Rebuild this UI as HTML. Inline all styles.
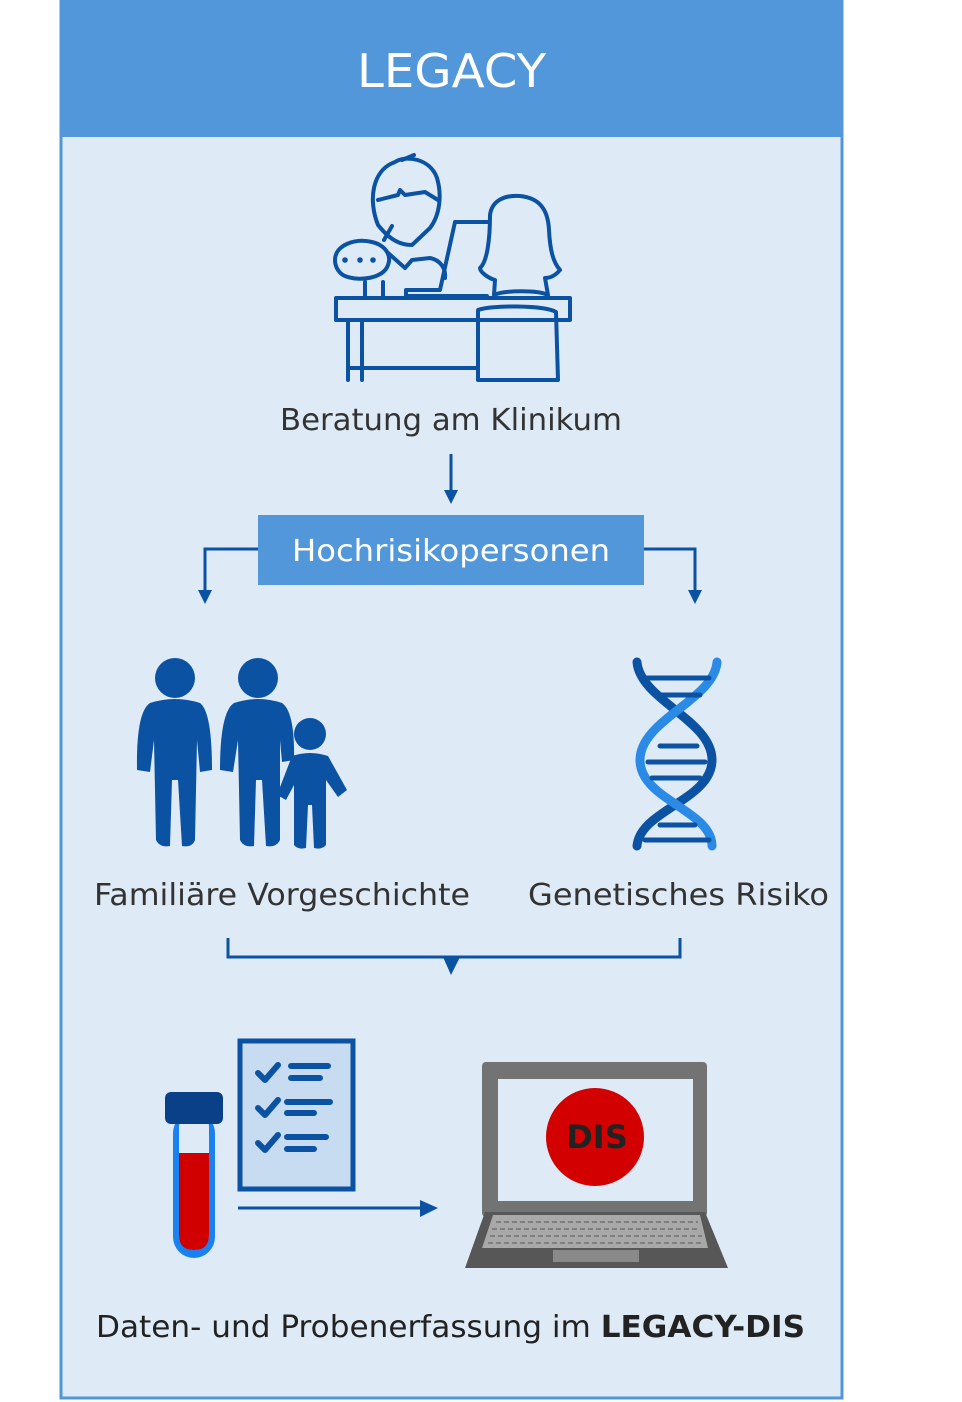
<!DOCTYPE html>
<html><head><meta charset="utf-8"><style>
html,body{margin:0;padding:0;background:#fff;}
svg{display:block}
text{font-family:"DejaVu Sans","Liberation Sans",sans-serif;}
</style></head><body>
<svg width="962" height="1402" viewBox="0 0 962 1402" xmlns="http://www.w3.org/2000/svg">
<rect x="61" y="1" width="781" height="1397" fill="#deebf7" stroke="#5296da" stroke-width="3"/>
<rect x="60" y="0" width="783" height="137" fill="#5397db"/>
<text x="357" y="87" font-size="46" fill="#fff" textLength="189" lengthAdjust="spacingAndGlyphs">LEGACY</text>

<!-- consultation icon -->
<g fill="none" stroke="#0b52a3" stroke-width="4" stroke-linecap="round" stroke-linejoin="round">
<path d="M378 225 C368 200 372 170 395 162 C405 155 430 158 437 178 C442 195 440 215 430 228 L412 245 C400 245 390 240 378 225Z"/>
<path d="M378 200 L398 195 L400 190 L405 195 L425 192 L438 200"/>
<path d="M402 160 L414 155"/>
<path d="M335 260 C335 245 355 238 372 242 C385 245 392 255 388 265 C384 278 360 282 345 276 C340 274 335 268 335 260Z"/>
<path d="M384 240 L392 226"/>
<path d="M387 252 L405 268 L412 260 L430 258 C440 260 446 268 445 278"/>
<path d="M365 282 V298 M383 282 V298"/>
<path d="M455 222 L488 222 M455 222 L440 290 L406 290 V296 L487 296"/>
<path d="M490 215 C492 200 505 195 520 196 C540 198 548 210 549 230 C550 250 553 262 560 270 C555 276 550 278 545 278 L548 295 C538 290 505 290 494 295 L495 280 C488 278 480 272 480 268 C487 262 490 240 490 215Z"/>
<path d="M336 298 H570 V320 H336 Z"/>
<path d="M348 320 V380 M362 320 V380 M348 368 H476"/>
<path d="M478 310 C490 305 545 305 556 312 L558 380 H478 Z"/>
</g>
<g fill="#0b52a3"><circle cx="345" cy="260" r="2.8"/><circle cx="360" cy="260" r="2.8"/><circle cx="373" cy="260" r="2.8"/></g>

<text x="280" y="430" font-size="30" fill="#333" textLength="342" lengthAdjust="spacingAndGlyphs">Beratung am Klinikum</text>

<g stroke="#0b52a3" stroke-width="3" fill="none">
<path d="M451 454 V492"/>
<path d="M258 549 H205 V592"/>
<path d="M644 549 H695 V592"/>
<path d="M228 938 V957 H680 V938"/>
<path d="M238 1208 H422"/>
</g>
<g fill="#0b52a3">
<path d="M444 490 L458 490 L451 504Z"/>
<path d="M198 590 L212 590 L205 604Z"/>
<path d="M688 590 L702 590 L695 604Z"/>
<path d="M443 957 L460 957 L451 975Z"/>
<path d="M420 1200 L438 1208 L420 1217Z"/>
</g>
<rect x="258" y="515" width="386" height="70" fill="#5397db"/>
<text x="292" y="561" font-size="30" fill="#fff" textLength="318" lengthAdjust="spacingAndGlyphs">Hochrisikopersonen</text>

<!-- family -->
<g fill="#0b52a3">
<circle cx="175" cy="678" r="20"/>
<path d="M150 703 Q175 695 200 703 Q212 712 212 770 L200 772 L197 740 L195 840 Q192 848 182 846 L178 780 L172 780 L170 846 Q160 848 156 840 L154 740 L150 772 L137 770 Q136 712 150 703Z"/>
<circle cx="258" cy="678" r="20"/>
<path d="M234 703 Q258 695 282 703 Q295 712 294 760 L282 762 L280 740 L280 840 Q276 848 266 846 L262 780 L256 780 L254 846 Q244 848 240 840 L238 740 L233 772 L220 770 Q220 712 234 703Z"/>
<circle cx="310" cy="734" r="16"/>
<path d="M292 756 Q310 750 328 756 L347 790 L338 797 L326 780 L326 845 Q322 850 314 848 L312 805 L308 805 L306 848 Q298 850 294 845 L294 785 L286 800 L277 795 Z"/>
</g>
<!-- DNA -->
<g fill="none" stroke-width="9" stroke-linecap="round">
<path d="M637 662 C640 700 712 720 712 760 C712 800 640 810 637 846" stroke="#0b52a3"/>
<path d="M717 662 C714 700 640 720 640 760 C640 800 712 810 712 846" stroke="#2b8ae6"/>
<g stroke="#0b52a3" stroke-width="5">
<path d="M645 678 H709 M655 695 H700 M660 746 H697 M648 762 H705 M652 778 H700 M660 825 H695 M645 840 H709"/>
</g>
</g>

<text x="94" y="905" font-size="30" fill="#333" textLength="376" lengthAdjust="spacingAndGlyphs">Familiäre Vorgeschichte</text>
<text x="528" y="905" font-size="30" fill="#333" textLength="301" lengthAdjust="spacingAndGlyphs">Genetisches Risiko</text>

<!-- tube -->
<rect x="173" y="1112" width="42" height="146" rx="21" fill="#1a82f0"/>
<rect x="179" y="1112" width="30" height="138" rx="15" fill="#deebf7"/>
<path d="M179 1153 H209 V1235 Q209 1250 194 1250 Q179 1250 179 1235Z" fill="#d00000"/>
<rect x="165" y="1092" width="58" height="32" rx="6" fill="#0a4088"/>
<!-- clipboard -->
<rect x="240" y="1041" width="113" height="148" fill="#c7dcf0" stroke="#0b52a3" stroke-width="5"/>
<g fill="none" stroke="#0b52a3" stroke-width="6" stroke-linecap="round" stroke-linejoin="round">
<path d="M258 1073 L265 1080 L278 1065 M258 1108 L265 1115 L278 1100 M258 1143 L265 1150 L278 1135"/>
<path d="M291 1066 H328 M291 1078 H320 M287 1102 H330 M287 1113 H314 M287 1137 H326 M287 1149 H314"/>
</g>
<!-- laptop -->
<rect x="482" y="1062" width="225" height="155" rx="4" fill="#737373"/>
<rect x="498" y="1079" width="195" height="122" fill="#deebf7"/>
<ellipse cx="595" cy="1137" rx="49" ry="49" fill="#d30000"/>
<text x="597" y="1148" text-anchor="middle" font-size="32" font-weight="bold" fill="#222">DIS</text>
<path d="M485 1212 H705 L728 1268 H465 Z" fill="#575757"/>
<path d="M493 1215 H700 L708 1248 H482 Z" fill="#a8a8a8"/>
<g stroke="#7f7f7f" stroke-width="2" stroke-dasharray="5 3"><path d="M496 1222 H698 M492 1229 H700 M490 1236 H702 M488 1243 H704"/></g>
<rect x="553" y="1250" width="86" height="12" fill="#8a8a8a"/>

<text x="96" y="1337" font-size="30" fill="#222" textLength="709" lengthAdjust="spacingAndGlyphs">Daten- und Probenerfassung im <tspan font-weight="bold">LEGACY-DIS</tspan></text>
</svg>
</body></html>
